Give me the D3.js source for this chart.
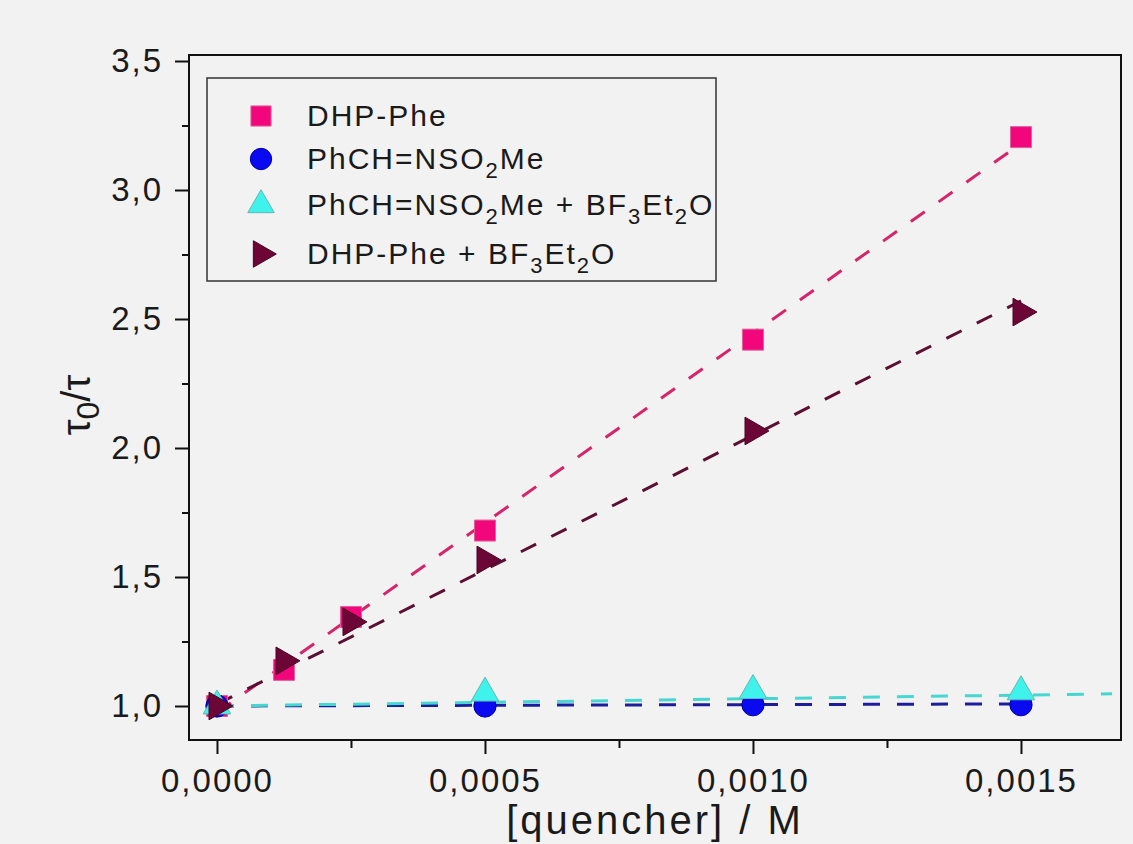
<!DOCTYPE html>
<html>
<head>
<meta charset="utf-8">
<script src="https://cdn.jsdelivr.net/npm/d3@7"></script>
<style>
  body { margin: 0; background: #f2f2f2; }
  svg { display: block; font-family: "Liberation Sans", Arial, sans-serif; }
</style>
</head>
<body>
<div id="chart"></div>
<script>
// quencher concentrations (M)
const concAll = [0, 0.000125, 0.00025, 0.0005, 0.001, 0.0015];
const concShort = [0, 0.0005, 0.001, 0.0015];

// tau0/tau values
const dhpPhe = [1.0, 1.14, 1.345, 1.68, 2.42, 3.205];
const imine = [1.0, 1.0, 1.005, 1.005];
const imineBF3 = [1.0, 1.05, 1.06, 1.055];
const dhpPheBF3 = [1.0, 1.175, 1.326, 1.566, 2.066, 2.527];

// dashed fit lines: [x start, x end, y start, y end]
const fitDhpPhe = [0, 0.0015, 0.975, 3.18];
const fitImine = [0, 0.0015, 1.0, 1.008];
const fitImineBF3 = [0, 0.00167, 1.0, 1.047];
const fitDhpPheBF3 = [0, 0.0015, 1.007, 2.57];

const yTicks = [1.0, 1.5, 2.0, 2.5, 3.0, 3.5];
const yMinor = [1.25, 1.75, 2.25, 2.75, 3.25];
const xTicks = [0, 0.0005, 0.001, 0.0015];
const xMinor = [0.00025, 0.00075, 0.00125];

const W = 1133, H = 844;
const plotL = 189, plotR = 1121, plotT = 55, plotB = 740;

const svg = d3.select('#chart').append('svg')
    .attr('width', W)
    .attr('height', H);

svg.append('rect').attr('width', W).attr('height', H).attr('fill', '#f2f2f2');

const x = d3.scaleLinear().domain([-0.0000522, 0.0016866]).range([plotL, plotR]);
const y = d3.scaleLinear().domain([0.8682, 3.5233]).range([plotB, plotT]);

// frame
svg.append('rect')
    .attr('x', plotL).attr('y', plotT)
    .attr('width', plotR - plotL).attr('height', plotB - plotT)
    .attr('fill', 'none').attr('stroke', '#111').attr('stroke-width', 2);

// y axis
const yAxis = svg.append('g').attr('transform', `translate(${plotL},0)`)
    .call(d3.axisLeft(y).tickValues(yTicks).tickSize(14).tickPadding(12)
        .tickFormat(d => d3.format('.1f')(d).replace('.', ',')));
yAxis.call(g => g.select('.domain').remove());
svg.append('g').attr('transform', `translate(${plotL},0)`)
    .call(d3.axisLeft(y).tickValues(yMinor).tickSize(7).tickFormat(''))
    .call(g => g.select('.domain').remove());

// x axis
const xAxis = svg.append('g').attr('transform', `translate(0,${plotB})`)
    .call(d3.axisBottom(x).tickValues(xTicks).tickSize(14).tickPadding(12)
        .tickFormat(d => d3.format('.4f')(d).replace('.', ',')));
xAxis.call(g => g.select('.domain').remove());
svg.append('g').attr('transform', `translate(0,${plotB})`)
    .call(d3.axisBottom(x).tickValues(xMinor).tickSize(8).tickFormat(''))
    .call(g => g.select('.domain').remove());

svg.selectAll('.tick line').attr('stroke', '#111').attr('stroke-width', 2);
svg.selectAll('.tick text')
    .attr('fill', '#1a1a1a')
    .style('font-size', '33px')
    .style('letter-spacing', '2px')
    .style('font-family', '"Liberation Sans", Arial, sans-serif');
xAxis.selectAll('.tick text').attr('dy', '0.78em');

// axis titles
svg.append('text')
    .attr('x', 655).attr('y', 834)
    .attr('text-anchor', 'middle')
    .attr('fill', '#1a1a1a')
    .style('font-size', '40px')
    .style('letter-spacing', '3px')
    .text('[quencher] / M');

const yTitle = svg.append('text')
    .attr('transform', 'translate(90,405) rotate(-90)')
    .attr('text-anchor', 'middle')
    .attr('fill', '#1a1a1a')
    .style('font-size', '40px');
yTitle.append('tspan').text('τ');
yTitle.append('tspan').attr('dy', 9).style('font-size', '32px').text('0');
yTitle.append('tspan').attr('dy', -9).text('/τ');

// fit lines
const fits = [
    { f: fitDhpPhe, color: '#d6246a' },
    { f: fitDhpPheBF3, color: '#5c0f32' },
    { f: fitImine, color: '#1c1c9c' },
    { f: fitImineBF3, color: '#46d8d0' }
];
svg.selectAll('.fit')
    .data(fits)
    .enter().append('line')
    .attr('class', 'fit')
    .attr('x1', d => x(d.f[0])).attr('x2', d => x(d.f[1]))
    .attr('y1', d => y(d.f[2])).attr('y2', d => y(d.f[3]))
    .attr('stroke', d => d.color)
    .attr('stroke-width', 3)
    .attr('stroke-dasharray', '17,17');

// series markers
const series = [
    { name: 'DHP-Phe', xs: concAll, ys: dhpPhe, type: d3.symbolSquare, size: 441, rot: 0, fill: '#f2067c', stroke: '#e0609a' },
    { name: 'imine', xs: concShort, ys: imine, type: d3.symbolCircle, size: 390, rot: 0, fill: '#0a0af0', stroke: '#0000a8' },
    { name: 'imineBF3', xs: concShort, ys: imineBF3, type: d3.symbolTriangle, size: 330, rot: 0, fill: '#3ff2ec', stroke: '#62b8b2' },
    { name: 'DHP-Phe BF3', xs: concAll, ys: dhpPheBF3, type: d3.symbolTriangle, size: 330, rot: 90, fill: '#6c0636', stroke: '#4a0020' }
];

series.forEach(s => {
    const pts = s.xs.map((v, i) => [v, s.ys[i]]);
    svg.append('g').selectAll('path')
        .data(pts)
        .enter().append('path')
        .attr('d', d3.symbol(s.type, s.size))
        .attr('transform', d => `translate(${x(d[0])},${y(d[1])}) rotate(${s.rot})`)
        .attr('fill', s.fill)
        .attr('stroke', s.stroke)
        .attr('stroke-width', 1);
});

// legend
const legend = svg.append('g');
legend.append('rect')
    .attr('x', 207).attr('y', 78).attr('width', 509).attr('height', 203)
    .attr('fill', '#f2f2f2').attr('stroke', '#333').attr('stroke-width', 1.5);

const legendLabels = [
    [['DHP-Phe', 0]],
    [['PhCH=NSO', 0], ['2', 1], ['Me', 0]],
    [['PhCH=NSO', 0], ['2', 1], ['Me + BF', 0], ['3', 1], ['Et', 0], ['2', 1], ['O', 0]],
    [['DHP-Phe + BF', 0], ['3', 1], ['Et', 0], ['2', 1], ['O', 0]]
];
const legendY = [116, 159, 205, 254];

series.forEach((s, i) => {
    legend.append('path')
        .attr('d', d3.symbol(s.type, s.size * 0.92))
        .attr('transform', `translate(261,${legendY[i]}) rotate(${s.rot})`)
        .attr('fill', s.fill)
        .attr('stroke', s.stroke)
        .attr('stroke-width', 1);
    const t = legend.append('text')
        .attr('x', 307).attr('y', legendY[i] + 10)
        .attr('fill', '#1a1a1a')
        .style('font-size', '30px')
        .style('letter-spacing', '2px');
    let shifted = false;
    legendLabels[i].forEach(([str, sub]) => {
        const ts = t.append('tspan').text(str);
        if (sub && !shifted) { ts.attr('dy', 9).style('font-size', '22px'); shifted = true; }
        else if (!sub && shifted) { ts.attr('dy', -9); shifted = false; }
        else if (sub) { ts.style('font-size', '22px'); }
    });
});
</script>
</body>
</html>
